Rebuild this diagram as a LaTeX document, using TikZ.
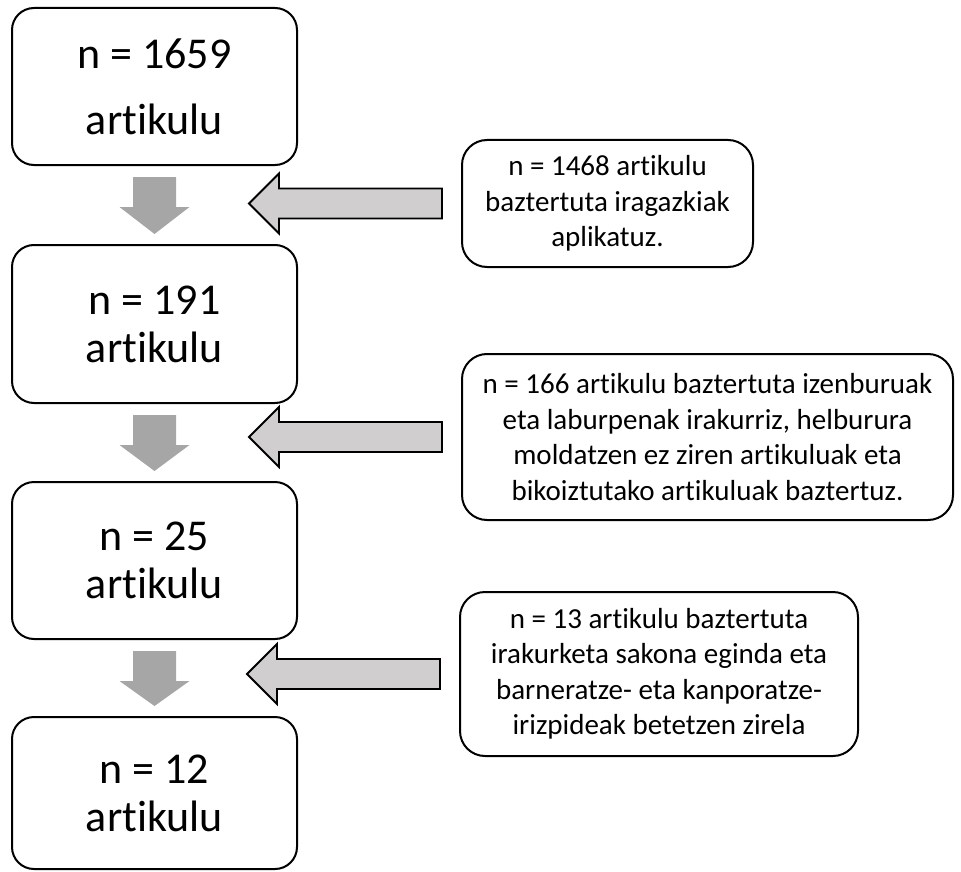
\documentclass[tikz,border=0pt]{standalone}
\usepackage{fontspec}
\setmainfont{Carlito}[Ligatures=NoCommon]
\usepackage{tikz}
\usetikzlibrary{calc}

\definecolor{downgray}{HTML}{A6A6A6}
\definecolor{sidegray}{HTML}{D0CECE}

\begin{document}
\begin{tikzpicture}
  [x=1pt,y=-1pt,
   every node/.style={draw,line width=2pt,rounded corners=22pt,align=center,inner sep=0pt},
   countbox/.style={minimum width=285pt,font=\fontsize{44}{48}\selectfont},
   notebox/.style={rounded corners=25pt,font=\fontsize{29}{35.5}\selectfont},
   downarrow/.style={fill=downgray},
   sidearrow/.style={draw,line width=1.8pt,fill=sidegray,line join=miter}]
  \useasboundingbox (0,0) rectangle (961,872);

  \node[countbox,minimum height=157pt,font=\fontsize{44}{66}\selectfont] (b1) at (154.5,86.5) {n = 1659\\artikulu};
  \node[countbox,minimum height=158pt] (b2) at (154.5,324)   {n = 191\\artikulu};
  \node[countbox,minimum height=157pt] (b3) at (154.5,560.5) {n = 25\\artikulu};
  \node[countbox,minimum height=152pt] (b4) at (154.5,793)   {n = 12\\artikulu};

  \node[notebox,minimum width=291pt,minimum height=127pt] (r1) at (607.5,203.5)
    {n = 1468 artikulu\\baztertuta iragazkiak\\aplikatuz.};
  \node[notebox,minimum width=491pt,minimum height=166pt] (r2) at (707.5,437)
    {n = 166 artikulu baztertuta izenburuak\\eta laburpenak irakurriz, helburura\\moldatzen ez ziren artikuluak eta\\bikoiztutako artikuluak baztertuz.};
  \node[notebox,minimum width=398pt,minimum height=164pt] (r3) at (659,674)
    {n = 13 artikulu baztertuta\\irakurketa sakona eginda eta\\barneratze- eta kanporatze-\\irizpideak betetzen zirela};

  \foreach \a/\b in {b1/b2,b2/b3,b3/b4}
    \fill[downarrow] ($(\a.south)+(-21.5,11)$) -- ($(\a.south)+(21.5,11)$) -- ($(\a.south)+(21.5,41)$)
      -- ($(\a.south)+(35,41)$) -- ($(\b.north)+(0,-10)$) -- ($(\a.south)+(-35,41)$)
      -- ($(\a.south)+(-21.5,41)$) -- cycle;

  \foreach \r in {r1,r2,r3}
    \draw[sidearrow] ($(\r.west)+(-19,-15)$) -- ($(\r.west)+(-182,-15)$) -- ($(\r.west)+(-182,-30)$)
      -- ($(\r.west)+(-212,0)$) -- ($(\r.west)+(-182,30)$) -- ($(\r.west)+(-182,15)$)
      -- ($(\r.west)+(-19,15)$) -- cycle;
\end{tikzpicture}
\end{document}
